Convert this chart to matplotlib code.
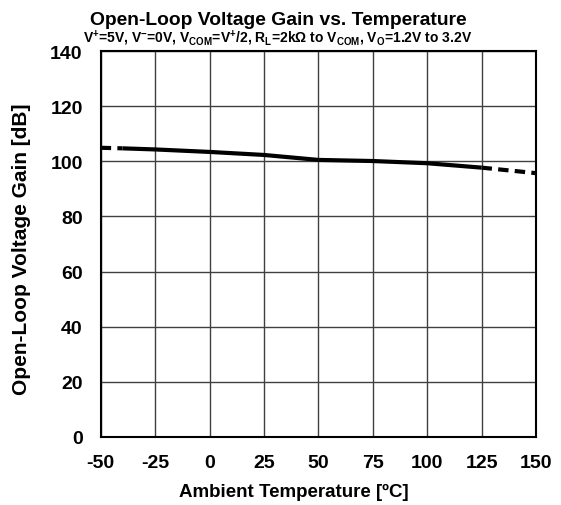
import matplotlib
matplotlib.use('Agg')
import matplotlib.pyplot as plt

plt.rcParams['font.family'] = ['Liberation Sans', 'DejaVu Sans']
plt.rcParams['font.weight'] = 'bold'
plt.rcParams['axes.unicode_minus'] = False
plt.rcParams['mathtext.fontset'] = 'custom'
plt.rcParams['mathtext.default'] = 'bf'
plt.rcParams['mathtext.bf'] = 'Liberation Sans:bold'
plt.rcParams['mathtext.rm'] = 'Liberation Sans:bold'

# data
temp_solid = [-40, -25, 0, 25, 50, 75, 100, 125]
gain_solid = [104.7, 104.3, 103.4, 102.3, 100.5, 100.1, 99.3, 97.7]
temp_low = [-50, -40]
gain_low = [104.9, 104.7]
temp_high = [125, 150]
gain_high = [97.7, 95.7]

xticks = [-50, -25, 0, 25, 50, 75, 100, 125, 150]
yticks = [0, 20, 40, 60, 80, 100, 120, 140]

fig = plt.figure(figsize=(5.61, 5.06), dpi=100)
ax = fig.add_axes([0.1795, 0.1344, 0.7759, 0.7628])

ax.plot(temp_solid, gain_solid, color='black', linewidth=3, solid_capstyle='butt')
ax.plot(temp_low, gain_low, color='black', linewidth=3, linestyle=(0, (2.5, 1.5)))
ax.plot(temp_high, gain_high, color='black', linewidth=3, linestyle=(0, (2.5, 1.5)))

ax.set_xlim(-50, 150)
ax.set_ylim(0, 140)
ax.set_xticks(xticks)
ax.set_yticks(yticks)
ax.tick_params(length=0, labelsize=14)
ax.tick_params(axis='y', pad=13)
ax.tick_params(axis='x', pad=12)
ax.grid(True, color='#404040', linewidth=1)
for s in ax.spines.values():
    s.set_linewidth(1.5)

ax.set_xlabel('Ambient Temperature [ºC]', fontsize=13.5, fontweight='bold')
ax.set_ylabel('Open-Loop Voltage Gain [dB]', fontsize=15, fontweight='bold')
ax.xaxis.set_label_coords(0.444, -0.142)
ax.xaxis.label.set_va('center')
ax.yaxis.set_label_coords(-0.181, 0.49)
ax.yaxis.label.set_va('center')

fig.text(0.4955, 0.960, 'Open-Loop Voltage Gain vs. Temperature', ha='center', va='center',
         fontsize=13.9, fontweight='bold')
fig.text(0.495, 0.925, 'V$^{+}$=5V, V$^{-}$=0V, V$_{COM}$=V$^{+}$/2, R$_{L}$=2kΩ to V$_{COM}$, V$_{O}$=1.2V to 3.2V',
         ha='center', va='center', fontsize=10, fontweight='bold')

fig.savefig('out.png', dpi=100)
